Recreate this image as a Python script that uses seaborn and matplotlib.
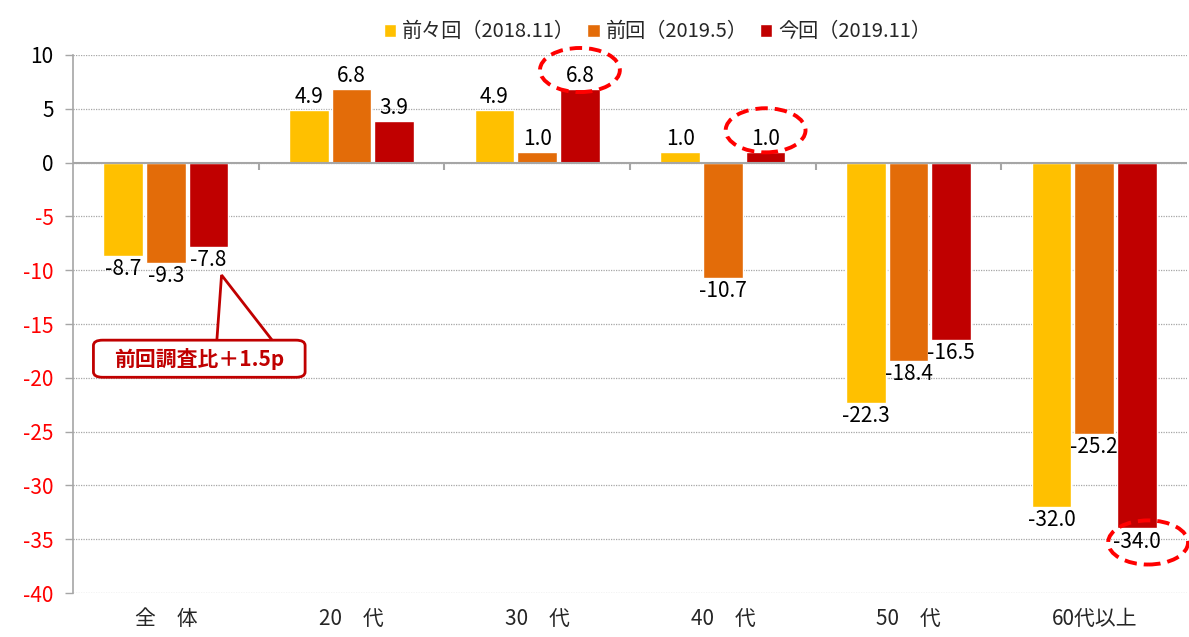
import numpy as np
import pandas as pd
import seaborn as sns
import matplotlib.pyplot as plt
from matplotlib.patches import Ellipse, FancyBboxPatch, Polygon

categories = ['全　体', '20　代', '30　代', '40　代', '50　代', '60代以上']
series_names = ['前々回（2018.11）', '前回（2019.5）', '今回（2019.11）']
prev2 = [-8.7, 4.9, 4.9, 1.0, -22.3, -32.0]
prev1 = [-9.3, 6.8, 1.0, -10.7, -18.4, -25.2]
latest = [-7.8, 3.9, 6.8, 1.0, -16.5, -34.0]
colors = ['#FFC000', '#E36C09', '#C00000']
yticks = list(range(-40, 11, 5))

df = pd.DataFrame({
    'cat': categories * 3,
    'series': [s for s in series_names for _ in categories],
    'val': prev2 + prev1 + latest,
})

sns.set_theme(style='white')
plt.rcParams['font.family'] = ['Noto Sans CJK JP', 'DejaVu Sans']

fig = plt.figure(figsize=(11.89, 6.37), dpi=100)
ax = fig.add_axes([0.0614, 0.069, 0.937, 0.8447])

sns.barplot(data=df, x='cat', y='val', hue='series', order=categories,
            hue_order=series_names, palette=colors, saturation=1, width=0.69,
            gap=0.07, edgecolor='white', linewidth=1, ax=ax, legend=True)

ax.set_xlim(-0.5, 5.5)
ax.set_ylim(-40, 10)
ax.set_yticks(yticks)
ax.set_yticklabels([str(t) for t in yticks], fontsize=15)
for t, lab in zip(yticks, ax.get_yticklabels()):
    lab.set_color('#FF0000' if t < 0 else 'black')
ax.set_xlabel('')
ax.set_ylabel('')
ax.tick_params(axis='x', length=0, pad=11, labelsize=15)
ax.tick_params(axis='y', length=6, width=1, color='#A6A6A6', left=True, pad=8)
ax.yaxis.grid(True, linestyle=(0, (1, 1)), color='#A6A6A6', lw=0.9)
ax.set_axisbelow(True)
for side in ['top', 'right', 'bottom']:
    ax.spines[side].set_visible(False)
ax.spines['left'].set_color('#A6A6A6')
ax.spines['left'].set_linewidth(1.2)
ax.axhline(0, color='#A6A6A6', lw=1.5, zorder=1)
ax.vlines(np.arange(0.5, 5.0, 1.0), 0, -0.65, color='#A6A6A6', lw=1.5)

for cont in ax.containers:
    ax.bar_label(cont, fmt='%.1f', padding=1.5, fontsize=15, color='black')

# dashed ellipses round the highlighted labels
red_bars = ax.containers[2]
for i, dy in [(2, 1.8), (3, 2.0), (5, -1.3)]:
    b = red_bars[i]
    cx = b.get_x() + b.get_width() / 2 + (0.06 if dy < 0 else 0.0)
    cy = latest[i] + dy
    ax.add_patch(Ellipse((cx, cy), 0.43, 4.1, fill=False, ec='#FF0000',
                         lw=2.8, ls=(0, (3.2, 1.8)), clip_on=False, zorder=6))

# callout for the overall group
b0 = red_bars[0]
bx = b0.get_x() + b0.get_width() / 2
tip = (bx + 0.07, latest[0] - 2.65)
box = FancyBboxPatch((-0.39, -19.95), 1.14, 3.45,
                     boxstyle='round,pad=0,rounding_size=0.05',
                     mutation_aspect=10, fc='white', ec='#C00000', lw=2, zorder=5)
ax.add_patch(box)
ax.add_patch(Polygon([(bx + 0.045, -16.35), tip, (bx + 0.34, -16.35)],
                     closed=True, fc='white', ec='none', zorder=6))
ax.plot([bx + 0.045, tip[0], bx + 0.34], [-16.45, tip[1], -16.45],
        color='#C00000', lw=2, zorder=7, solid_joinstyle='miter')
ax.text(0.18, -18.25, '前回調査比＋1.5p', ha='center', va='center',
        fontsize=15, fontweight='bold', color='#C00000', zorder=8)

handles, labels = ax.get_legend_handles_labels()
ax.get_legend().remove()
fig.legend(handles, labels, loc='upper center', bbox_to_anchor=(0.553, 0.995),
           ncol=3, frameon=False, fontsize=14.5, handlelength=0.6,
           handleheight=0.6, handletextpad=0.3, columnspacing=0.6)

fig.savefig('out.png', dpi=100)
